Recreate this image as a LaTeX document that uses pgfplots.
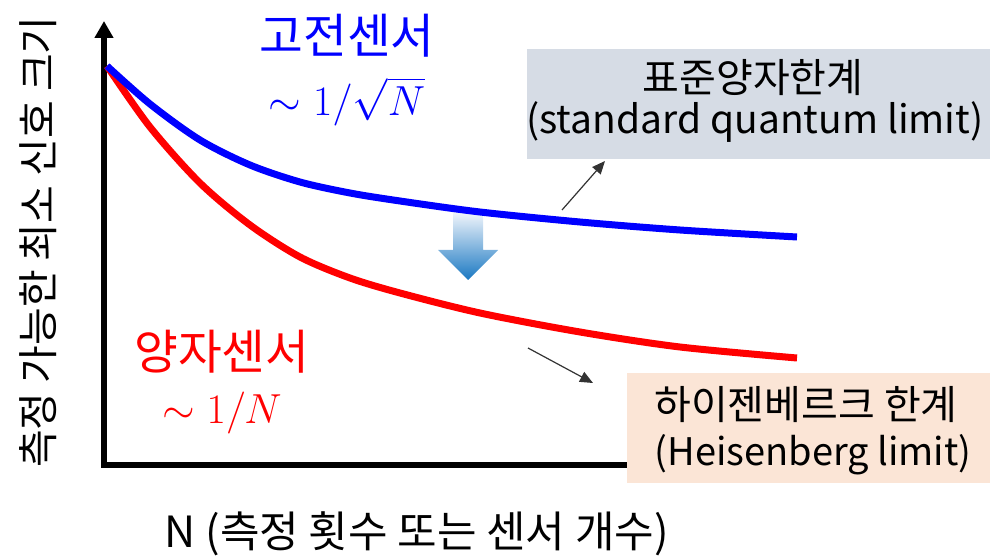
\RequirePackage{fix-cm}
\documentclass[border=0pt]{standalone}
\usepackage[no-math]{fontspec}
\setmainfont{Noto Sans CJK KR}
\usepackage{pgfplots}
\pgfplotsset{compat=1.18}
\usetikzlibrary{arrows.meta}
\definecolor{sqlgray}{HTML}{D6DCE5}
\definecolor{hlpeach}{HTML}{FBE5D6}
\definecolor{arrtop}{HTML}{F2F6FC}
\definecolor{arrbot}{HTML}{1A78C2}
\definecolor{cblue}{HTML}{0000FF}
\definecolor{cred}{HTML}{FF0000}
\begin{document}
\begin{tikzpicture}
\begin{axis}[
  scale only axis,
  width=261.5pt, height=222pt,
  xmin=104, xmax=627, ymin=92, ymax=536,
  axis x line=bottom, axis y line=left,
  axis line style={line width=3pt, line cap=rect, black},
  x axis line style={-},
  y axis line style={-{Triangle[width=9pt,length=8.5pt]}},
  xtick=\empty, ytick=\empty,
  clip=false,
  xlabel={N (측정 횟수 또는 센서 개수)},
  ylabel={측정 가능한 최소 신호 크기},
  every axis x label/.style={at={(axis description cs:0.598,-0.155)}, anchor=center, inner sep=0pt, font=\fontsize{21.5}{25}\selectfont},
  every axis y label/.style={at={(axis description cs:-0.126,0.502)}, anchor=center, rotate=90, inner sep=0pt, font=\fontsize{20.5}{24}\selectfont},
]
\coordinate (BL) at (axis cs:0,0);
\coordinate (TR) at (axis cs:990,557);

% boxes
\fill[sqlgray] (axis cs:527,508) rectangle (axis cs:990,398);
\fill[hlpeach] (axis cs:627,184) rectangle (axis cs:990,74);
\node[inner sep=0pt, font=\fontsize{20}{24}\selectfont] at (axis cs:753,479) {표준양자한계};
\node[inner sep=0pt, font=\fontsize{19.5}{23}\selectfont] at (axis cs:755,435) {(standard quantum limit)};
\node[inner sep=0pt, font=\fontsize{20}{24}\selectfont] at (axis cs:806,152.5) {하이젠베르크 한계};
\node[inner sep=0pt, font=\fontsize{19}{23}\selectfont] at (axis cs:813,102) {(Heisenberg limit)};

% gradient arrow
\path[top color=arrtop, bottom color=arrbot]
  (axis cs:453,345) -- (axis cs:483,345) -- (axis cs:483,307) -- (axis cs:498,307)
  -- (axis cs:468,277) -- (axis cs:438,307) -- (axis cs:453,307) -- cycle;

% curves
\addplot[cred, line width=3.5pt, smooth, line cap=butt] coordinates {
 (107,491) (150,430) (200,374) (250,332) (300,300) (350,279)
 (400,264) (480,244) (580,225) (680,210) (797,199)
};
\addplot[cblue, line width=3.5pt, smooth, line cap=butt] coordinates {
 (107,491) (150,453) (200,417) (250,392) (300,375) (350,364)
 (400,356) (480,345) (580,335) (680,327) (797,320)
};

% pointer arrows
\draw[black!80, line width=0.6pt, -{Triangle[width=5.5pt,length=6.5pt]}]
  (axis cs:562,347) -- (axis cs:605,396);
\draw[black!80, line width=0.6pt, -{Triangle[width=5.5pt,length=6.5pt]}]
  (axis cs:528,209) -- (axis cs:593,174);

% curve titles
\node[inner sep=0pt, text depth=0pt, text=cblue, font=\fontsize{23.8}{27}\selectfont] at (axis cs:347,523.5) {고전센서};
\node[inner sep=0pt, text=cblue, font=\fontsize{21}{25}\selectfont] at (axis cs:347,455.5) {$\sim 1/\sqrt{N}$};
\node[inner sep=0pt, text depth=0pt, text=cred, font=\fontsize{23.8}{27}\selectfont] at (axis cs:222,207.5) {양자센서};
\node[inner sep=0pt, text=cred, font=\fontsize{21}{25}\selectfont] at (axis cs:222,144) {$\sim 1/N$};
\end{axis}
\pgfresetboundingbox
\path[use as bounding box] (BL) rectangle (TR);
\end{tikzpicture}
\end{document}
